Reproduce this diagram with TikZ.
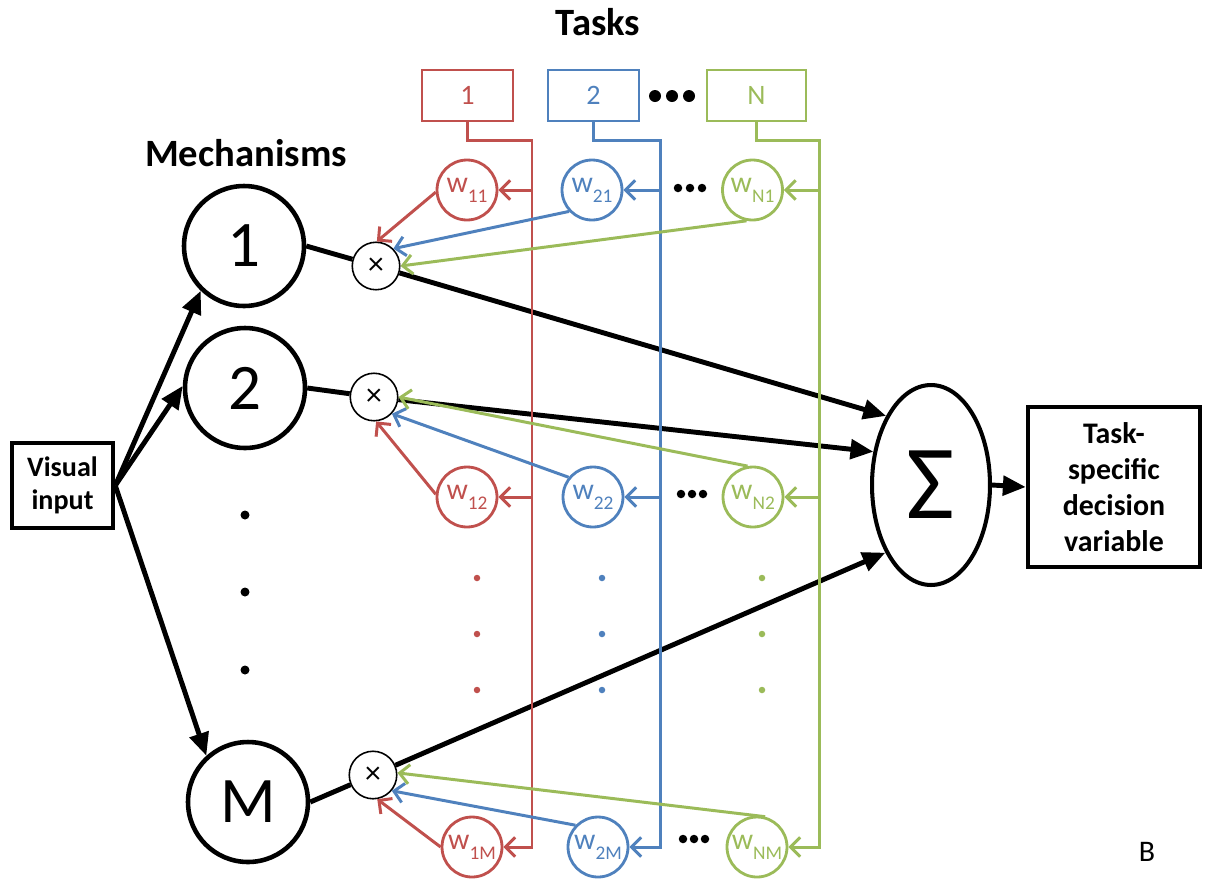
\documentclass[tikz,border=0pt]{standalone}
\usepackage{fontspec}
\setmainfont{Carlito}
\usetikzlibrary{arrows.meta,shapes.geometric}
\definecolor{cred}{HTML}{C0504D}
\definecolor{cblue}{HTML}{4F81BD}
\definecolor{cgreen}{HTML}{9BBB59}
\newcommand\wsub[1]{w\raisebox{-0.33em}{\fontsize{11}{11}\selectfont #1}}
\begin{document}
\begin{tikzpicture}[x=0.02cm,y=-0.02cm,
  title/.style={font=\bfseries\fontsize{22}{24}\selectfont},
  mech/.style={circle,draw,line width=2.6pt,minimum size=2.4cm,inner sep=0pt,font=\fontsize{37}{38}\selectfont},
  mult/.style={circle,draw,line width=0.9pt,fill=white,minimum size=0.95cm,inner sep=0pt,font=\fontsize{18}{18}\selectfont},
  wnode/.style={circle,draw=#1,text=#1,line width=1.6pt,minimum size=1.2cm,inner sep=0pt,font=\fontsize{17}{17}\selectfont},
  tbox/.style={draw=#1,text=#1,line width=1.6pt,minimum height=1.02cm,inner sep=0pt,font=\fontsize{16}{16}\selectfont},
  bbox/.style={draw,line width=2.6pt,align=center,inner sep=0pt},
  thk/.style={line width=2.8pt},
  blk/.style={line width=2.8pt,-{Triangle[length=13pt,width=11pt]}},
  carr/.style={line width=1.7pt,#1,-{Straight Barb[length=5.5pt,width=11pt]}}
]
\useasboundingbox (0,0) rectangle (1207,880);

% titles
\node[title] (tasks) at (598,22) {Tasks};
\node[title] (mechs) at (246,153) {Mechanisms};

% task boxes
\node[tbox=cred,minimum width=1.82cm] (t1) at (467.5,95.5) {1};
\node[tbox=cblue,minimum width=1.82cm] (t2) at (593.5,95.5) {2};
\node[tbox=cgreen,minimum width=1.98cm] (tN) at (756.5,95.5) {N};
\foreach \x in {655,672,689} \fill (\x,96) circle[radius=0.12cm];

% input / output
\node[bbox,minimum width=2.02cm,minimum height=1.7cm,font=\bfseries\fontsize{16}{19}\selectfont] (vi) at (62.5,485.5) {Visual\\input};
\node[bbox,minimum width=3.44cm,minimum height=3.2cm,font=\bfseries\fontsize{17}{20.5}\selectfont] (out) at (1114,487) {Task-\\specific\\decision\\variable};
\node[ellipse,draw,line width=2.3pt,minimum width=2.36cm,minimum height=4cm,inner sep=0pt,font=\fontsize{60}{62}\selectfont] (sig) at (931,485) {Σ};

% mechanisms
\node[mech] (m1) at (244,246) {1};
\node[mech] (m2) at (245,388) {2};
\node[mech] (mM) at (248,802) {M};
\foreach \y in {515,592,670} \fill (245,\y) circle[radius=0.09cm];

% multipliers
\node[mult] (x1) at (376,266) {×};
\node[mult] (x2) at (374,397) {×};
\node[mult] (xM) at (373,775) {×};

% weights
\node[wnode=cred] (w11) at (467,190) {\wsub{11}};
\node[wnode=cblue] (w21) at (592,190) {\wsub{21}};
\node[wnode=cgreen] (wN1) at (752.5,190) {\wsub{N1}};
\node[wnode=cred] (w12) at (467,497) {\wsub{12}};
\node[wnode=cblue] (w22) at (593,497) {\wsub{22}};
\node[wnode=cgreen] (wN2) at (753,497) {\wsub{N2}};
\node[wnode=cred] (w1M) at (472,847) {\wsub{1M}};
\node[wnode=cblue] (w2M) at (598,847) {\wsub{2M}};
\node[wnode=cgreen] (wNM) at (757,847) {\wsub{NM}};
\foreach \x/\y in {678/188,690/188,702/188,681/494,692/494,703/494,683/839,694/839,705/839}
  \fill (\x,\y) circle[radius=0.085cm];
\foreach \y in {578,634,690}{
  \fill[cred] (477,\y) circle[radius=0.065cm];
  \fill[cblue] (602,\y) circle[radius=0.065cm];
  \fill[cgreen] (762,\y) circle[radius=0.065cm];
}

% black connectors
\draw[blk] (vi.east) -- (m1.226);
\draw[blk] (vi.east) -- (m2.178);
\draw[blk] (vi.east) -- (mM.132);
\draw[thk] (m1.east) -- (x1);
\draw[thk] (m2.east) -- (x2);
\draw[thk] (mM.east) -- (xM);
\draw[blk] (x1) -- (sig.123);
\draw[blk] (x2) -- (sig.150);
\draw[blk] (xM) -- (sig.236);
\draw[blk] (sig.east) -- (out.west);

% task lines
\coordinate (r0) at (532,140);
\coordinate (b0) at (660,140);
\coordinate (g0) at (819,140);
\draw[carr=cred] (t1.south) |- (r0) |- (w1M);
\draw[carr=cblue] (t2.south) |- (b0) |- (w2M);
\draw[carr=cgreen] (tN.south) |- (g0) |- (wNM);
\draw[carr=cred] (r0 |- w11) -- (w11);
\draw[carr=cred] (r0 |- w12) -- (w12);
\draw[carr=cblue] (b0 |- w21) -- (w21);
\draw[carr=cblue] (b0 |- w22) -- (w22);
\draw[carr=cgreen] (g0 |- wN1) -- (wN1);
\draw[carr=cgreen] (g0 |- wN2) -- (wN2);

% weights to multipliers
\draw[carr=cred] (w11.184) -- (x1.88);
\draw[carr=cblue] (w21.223) -- (x1.45);
\draw[carr=cgreen] (wN1.259) -- (x1.0);
\draw[carr=cred] (w12.175) -- (x2.-85);
\draw[carr=cblue] (w22.141) -- (x2.-43);
\draw[carr=cgreen] (wN2.100) -- (x2.0);
\draw[carr=cred] (w1M.180) -- (xM.-80);
\draw[carr=cblue] (w2M.136) -- (xM.-40);
\draw[carr=cgreen] (wNM.75) -- (xM.5);

\node[font=\fontsize{17}{17}\selectfont] (B) at (1147,852) {B};
\end{tikzpicture}
\end{document}
